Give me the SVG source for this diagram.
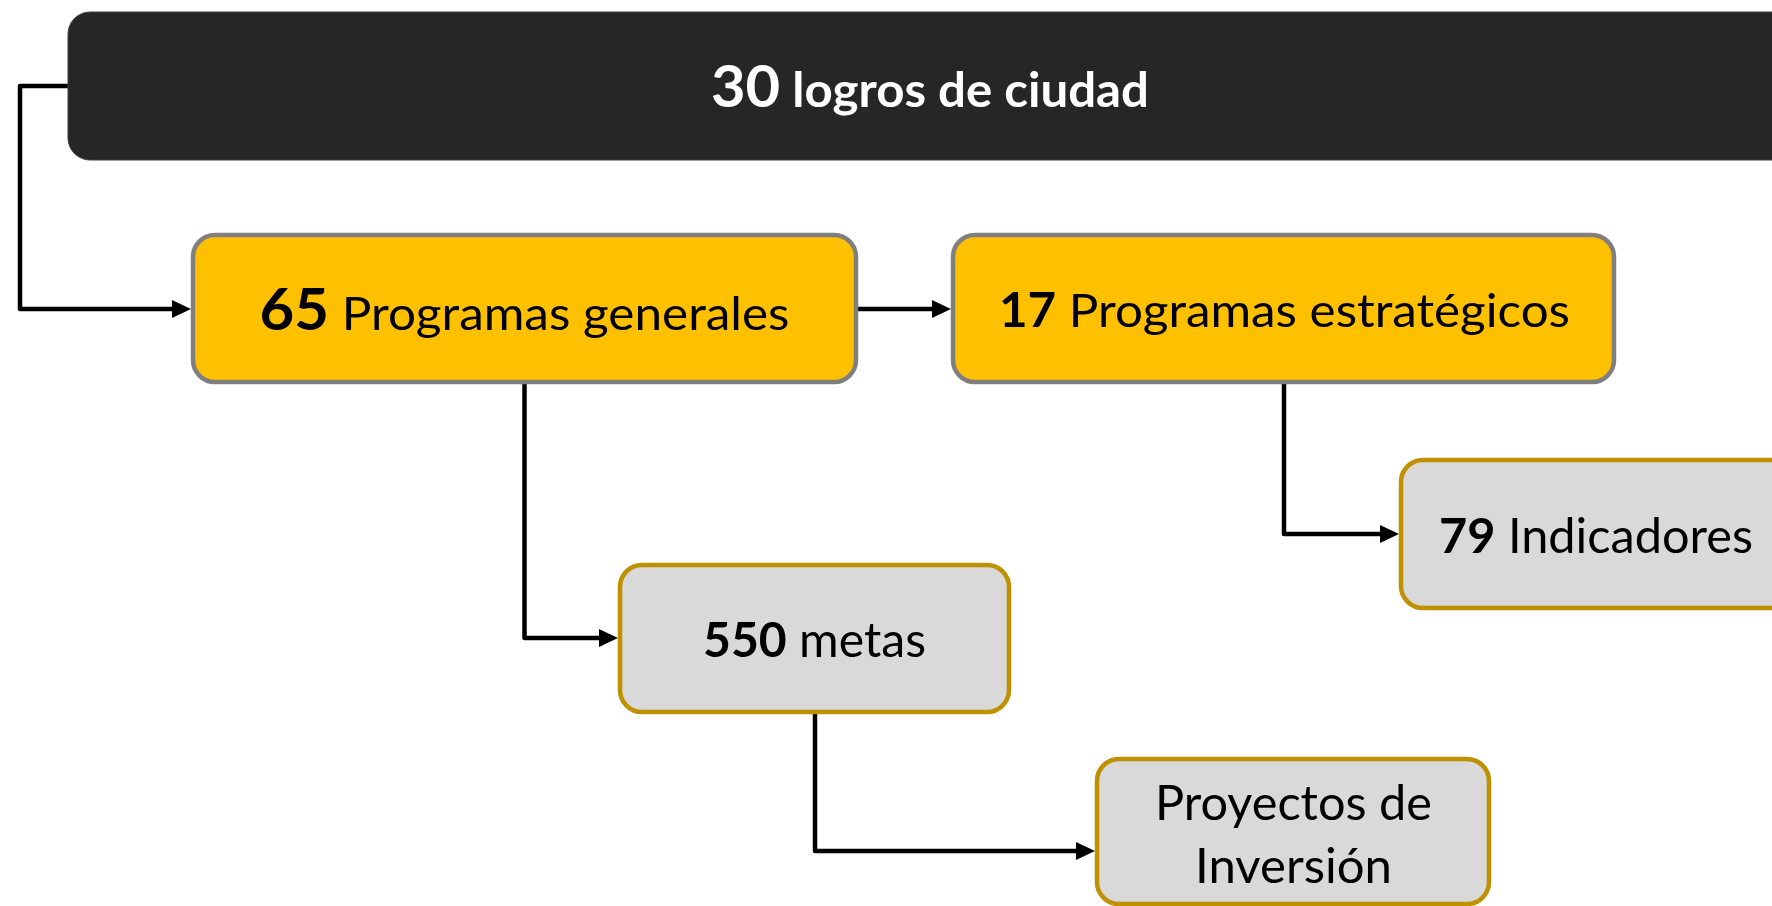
<svg xmlns="http://www.w3.org/2000/svg" width="1772" height="906" viewBox="0 0 1772 906">
  <style>
    .conn { fill: none; stroke: #000000; stroke-width: 4.5; stroke-linejoin: round; marker-end: url(#arrow); }
    .yellow { fill: #FFC000; stroke: #7F7F7F; stroke-width: 4.5; }
    .grey { fill: #D9D9D9; stroke: #BF9000; stroke-width: 4.5; }
    .dark { fill: #262626; stroke: #404040; stroke-width: 1; }
    .lbl { font-family: Lato, "Open Sans", "Liberation Sans", sans-serif; fill: #000000; font-size: 48px; text-anchor: middle; }
    .num { font-weight: bold; }
    .title { fill: #FFFFFF; font-weight: bold; }
  </style>
  <defs>
    <marker id="arrow" markerUnits="userSpaceOnUse" markerWidth="20" markerHeight="20" refX="3" refY="9" orient="auto">
      <path d="M0,0 L19,9 L0,18 Z" fill="#000000"/>
    </marker>
  </defs>
  <rect width="1772" height="906" fill="#FFFFFF"/>

  <g id="connectors">
    <path class="conn" d="M68,86 H20 V309 H175"/>
    <path class="conn" d="M858,309 H935"/>
    <path class="conn" d="M524.5,384 V638 H602"/>
    <path class="conn" d="M1284,384 V534 H1383"/>
    <path class="conn" d="M815,714 V851 H1079"/>
  </g>

  <g id="node-logros">
    <rect class="dark" x="68" y="12" width="1760" height="148" rx="22" ry="22"/>
    <text class="lbl title" x="930" y="107" textLength="438" lengthAdjust="spacingAndGlyphs"><tspan font-size="57">30</tspan><tspan font-size="47"> logros de ciudad</tspan></text>
  </g>

  <g id="node-programas-generales">
    <rect class="yellow" x="193" y="235" width="663" height="147" rx="22" ry="22"/>
    <text class="lbl" x="524.5" y="330" textLength="530" lengthAdjust="spacingAndGlyphs"><tspan class="num" font-size="57">65</tspan><tspan font-size="47"> Programas generales</tspan></text>
  </g>

  <g id="node-programas-estrategicos">
    <rect class="yellow" x="953" y="235" width="661" height="147" rx="22" ry="22"/>
    <text class="lbl" x="1284.5" y="327" textLength="571" lengthAdjust="spacingAndGlyphs"><tspan class="num" font-size="47">17</tspan><tspan font-size="47"> Programas estratégicos</tspan></text>
  </g>

  <g id="node-metas">
    <rect class="grey" x="620" y="565" width="389" height="147" rx="22" ry="22"/>
    <text class="lbl" x="814.5" y="657" textLength="223" lengthAdjust="spacingAndGlyphs"><tspan class="num">550</tspan><tspan> metas</tspan></text>
  </g>

  <g id="node-indicadores">
    <rect class="grey" x="1401" y="460" width="400" height="148" rx="22" ry="22"/>
    <text class="lbl" x="1596" y="553" textLength="314" lengthAdjust="spacingAndGlyphs"><tspan class="num">79</tspan><tspan> Indicadores</tspan></text>
  </g>

  <g id="node-proyectos">
    <rect class="grey" x="1097" y="759" width="392" height="145" rx="22" ry="22"/>
    <text class="lbl" x="1293.5" y="820" textLength="277" lengthAdjust="spacingAndGlyphs">Proyectos de</text>
    <text class="lbl" x="1293.5" y="883" textLength="197" lengthAdjust="spacingAndGlyphs">Inversión</text>
  </g>
</svg>
